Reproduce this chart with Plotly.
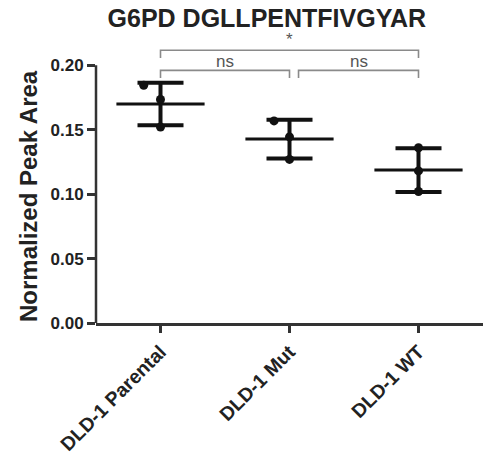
import numpy as np
import plotly.graph_objects as go

# ---- data ----
groups = ["DLD-1 Parental", "DLD-1 Mut", "DLD-1 WT"]
parental = [0.1845, 0.1734, 0.1520]
mut = [0.1568, 0.1444, 0.1269]
wt = [0.1360, 0.1180, 0.1020]
series = [parental, mut, wt]
y_ticks = [0.00, 0.05, 0.10, 0.15, 0.20]
comparisons = [("DLD-1 Parental", "DLD-1 Mut", "ns"),
               ("DLD-1 Mut", "DLD-1 WT", "ns"),
               ("DLD-1 Parental", "DLD-1 WT", "*")]
title = "G6PD DGLLPENTFIVGYAR"
y_title = "Normalized Peak Area"

# ---- style ----
FONT = "Liberation Sans, Arial, sans-serif"
INK = "#111111"
AXC = "#333333"
BRC = "#8a8a8a"
point_dodge = [[-0.13, 0, 0], [-0.12, 0, 0], [0, 0, 0]]
bracket_levels = [0.196, 0.196, 0.2116]
bracket_start_gap = [0.0, 0.07, 0.0]
tip = 0.006

means = [float(np.mean(s)) for s in series]
sds = [float(np.std(s, ddof=1)) for s in series]

fig = go.Figure()

# mean + SD
fig.add_trace(go.Scatter(
    x=list(range(len(groups))), y=means, mode="markers",
    marker=dict(symbol="line-ew", size=63, color=INK, line=dict(color=INK, width=3)),
    error_y=dict(type="data", array=sds, visible=True, thickness=4, width=23, color=INK),
    hoverinfo="skip", showlegend=False))

# individual points
for gi, vals in enumerate(series):
    fig.add_trace(go.Scatter(
        x=[gi + d for d in point_dodge[gi]], y=vals, mode="markers",
        marker=dict(size=9, color=INK), hoverinfo="skip", showlegend=False))

# significance brackets
for (a, b, lab), lvl, g in zip(comparisons, bracket_levels, bracket_start_gap):
    i, j = groups.index(a) + g, groups.index(b)
    fig.add_trace(go.Scatter(
        x=[i, i, j, j], y=[lvl - tip, lvl, lvl, lvl - tip], mode="lines",
        line=dict(color=BRC, width=1.6), hoverinfo="skip", showlegend=False))
    fig.add_annotation(x=(i + j) / 2, y=lvl, xref="x", yref="y", text=lab,
                       showarrow=False, yanchor="bottom", yshift=-3 if lab == "ns" else -1,
                       font=dict(family=FONT, size=17, color="#555555"))

# y-axis line only up to the top tick
fig.add_shape(type="line", xref="paper", yref="y", x0=0, x1=0, y0=y_ticks[0], y1=y_ticks[-1],
              line=dict(color=AXC, width=2.5))

fig.add_annotation(x=-0.1757, xref="paper", y=0.0985, yref="y", text="<b>%s</b>" % y_title,
                   textangle=-90, showarrow=False, xanchor="center", yanchor="middle",
                   font=dict(family=FONT, size=24, color="#222222"))

fig.update_layout(
    width=487, height=455,
    margin=dict(l=96, r=4, t=32.75, b=132, autoexpand=False),
    paper_bgcolor="white", plot_bgcolor="white",
    title=dict(text="<b>%s</b>" % title, x=0.548, xref="container", xanchor="center",
               y=1 - 18 / 455, yref="container", yanchor="middle",
               font=dict(family=FONT, size=25, color="#222222")),
    font=dict(family=FONT, color="#222222"),
)
fig.update_xaxes(range=[-0.5, 2.5], tickvals=list(range(len(groups))), ticktext=groups,
                 tickangle=-45, showgrid=False, zeroline=False, automargin=False,
                 showline=True, linecolor=AXC, linewidth=2.5,
                 ticks="outside", ticklen=7, tickwidth=2.5, tickcolor=AXC,
                 tickfont=dict(family=FONT, size=19.5, color="#222222", weight="bold"))
fig.update_yaxes(range=[0, 0.225], tickvals=y_ticks, tickformat=".2f",
                 showgrid=False, zeroline=False, showline=False, automargin=False,
                 ticks="outside", ticklen=8, tickwidth=2.5, tickcolor=AXC,
                 tickfont=dict(family=FONT, size=17, color="#222222", weight="bold"))

fig.write_html("out.html")
